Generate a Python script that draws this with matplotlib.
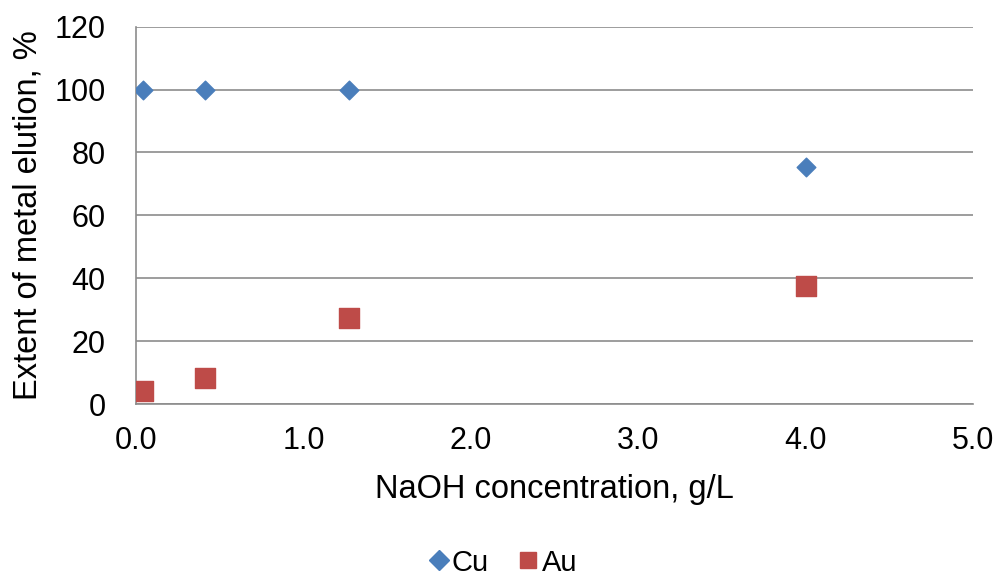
import matplotlib
matplotlib.use("Agg")
import matplotlib.pyplot as plt
from matplotlib.lines import Line2D

plt.rcParams['font.family'] = ['Liberation Sans', 'DejaVu Sans']

naoh = [0.04, 0.41, 1.27, 4.0]
cu = [100, 100, 100, 75.5]
au = [4.2, 8.2, 27.3, 37.5]

cu_color = '#4a7ebb'
au_color = '#be4b48'

fig = plt.figure(figsize=(10, 5.79), dpi=100)
ax = fig.add_axes([0.136, 0.302, 0.837, 0.652])

ax.scatter(naoh, cu, marker='D', s=90, color=cu_color, zorder=3)
ax.scatter(naoh, au, marker='s', s=225, color=au_color, zorder=3)

ax.set_xlim(0, 5)
ax.set_ylim(0, 120)
ax.set_xticks([0, 1, 2, 3, 4, 5])
ax.set_xticklabels([f"{v:.1f}" for v in [0, 1, 2, 3, 4, 5]])
ax.set_yticks(range(0, 121, 20))
ax.yaxis.grid(True, color='#8c8c8c', linewidth=1.2)
ax.set_axisbelow(True)
for s in ['top', 'right']:
    ax.spines[s].set_visible(False)
for s in ['left', 'bottom']:
    ax.spines[s].set_color('#8c8c8c')
    ax.spines[s].set_linewidth(1.2)
ax.tick_params(axis='both', length=0, labelsize=22)
ax.tick_params(axis='y', pad=22)
ax.tick_params(axis='x', pad=16)
ax.set_xlabel('NaOH concentration, g/L', fontsize=23.5, labelpad=13)
ax.set_ylabel('Extent of metal elution, %', fontsize=23.5, labelpad=8)

handles = [
    Line2D([], [], marker='D', linestyle='none', markersize=10, color=cu_color, label='Cu'),
    Line2D([], [], marker='s', linestyle='none', markersize=12, color=au_color, label='Au'),
]
fig.legend(handles=handles, loc='lower center', bbox_to_anchor=(0.502, 0.004), ncol=2,
           frameon=False, fontsize=21, handletextpad=0.05, columnspacing=0.95,
           handlelength=0.8, borderpad=0, borderaxespad=0)

fig.savefig('out.png')
